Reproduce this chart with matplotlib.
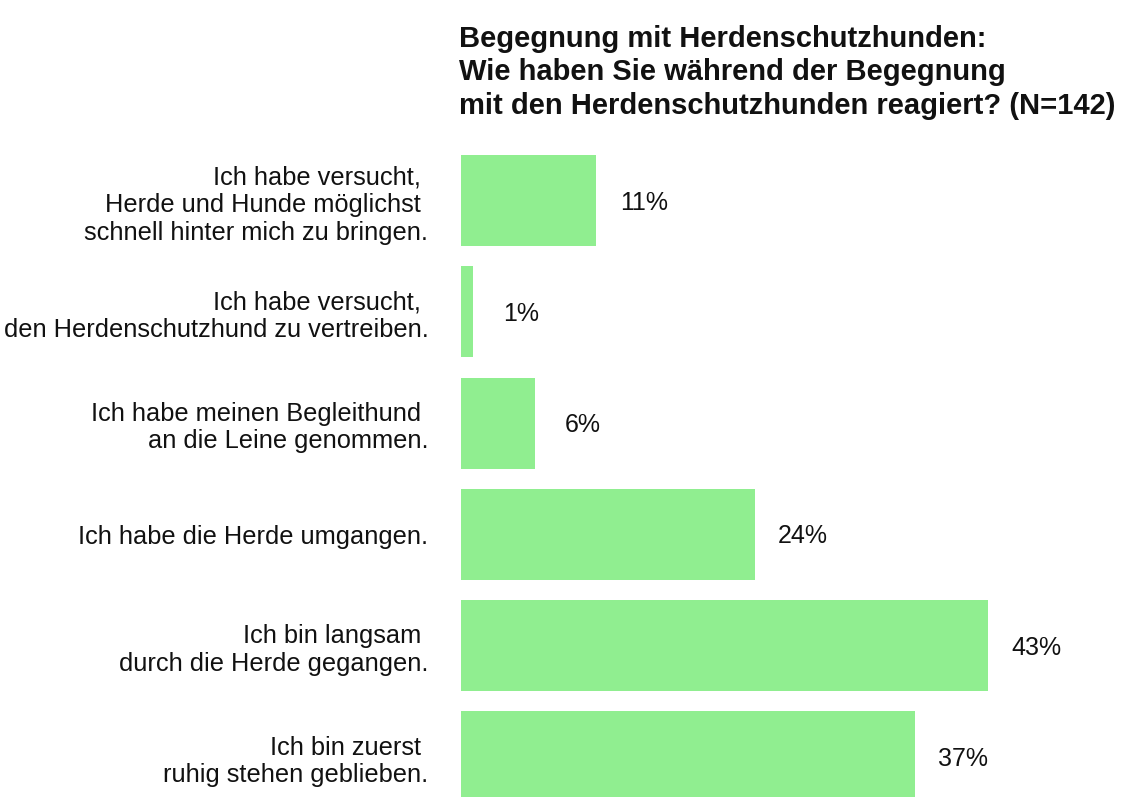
import matplotlib
matplotlib.use("Agg")
import matplotlib.pyplot as plt

plt.rcParams['font.family'] = ['Liberation Sans', 'DejaVu Sans']

# Antworten (von oben nach unten) und Anteile in Prozent
categories = [
    "Ich habe versucht, \nHerde und Hunde möglichst \nschnell hinter mich zu bringen.",
    "Ich habe versucht, \nden Herdenschutzhund zu vertreiben.",
    "Ich habe meinen Begleithund \nan die Leine genommen.",
    "Ich habe die Herde umgangen.",
    "Ich bin langsam \ndurch die Herde gegangen.",
    "Ich bin zuerst \nruhig stehen geblieben.",
]
values = [11, 1, 6, 24, 43, 37]
value_labels = ["11%", "1%", "6%", "24%", "43%", "37%"]

title = ("Begegnung mit Herdenschutzhunden:\n"
         "Wie haben Sie während der Begegnung\n"
         "mit den Herdenschutzhunden reagiert? (N=142)")

W, H = 1124, 797
fig = plt.figure(figsize=(W / 100, H / 100), dpi=100)

left_px, top_px, bottom_px = 461, 144.9, 812.7
ax = fig.add_axes([left_px / W, (H - bottom_px) / H,
                   (W - left_px) / W, (bottom_px - top_px) / H])

ypos = list(range(len(values)))
ax.barh(ypos, values, height=0.82, color="#90EE90")
ax.set_ylim(len(values) - 0.5, -0.5)
ax.set_xlim(0, (W - left_px) / 12.26)

for y, v, lab in zip(ypos, values, value_labels):
    ax.annotate(lab, xy=(v, y), xytext=(48, -2), textcoords="offset pixels",
                ha="center", va="center", fontsize=18, color="#111111")

ax.set_yticks(ypos)
ax.set_yticklabels(categories, fontsize=18.3, color="#111111", linespacing=1.2)
ax.tick_params(axis="y", length=0, pad=23.5)
ax.set_xticks([])
for s in ax.spines.values():
    s.set_visible(False)

fig.text(459 / W, 1 - 25 / H, title, ha="left", va="top",
         fontsize=21, fontweight="bold", color="#111111", linespacing=1.24)

fig.savefig("out.png", dpi=100, facecolor="white")
